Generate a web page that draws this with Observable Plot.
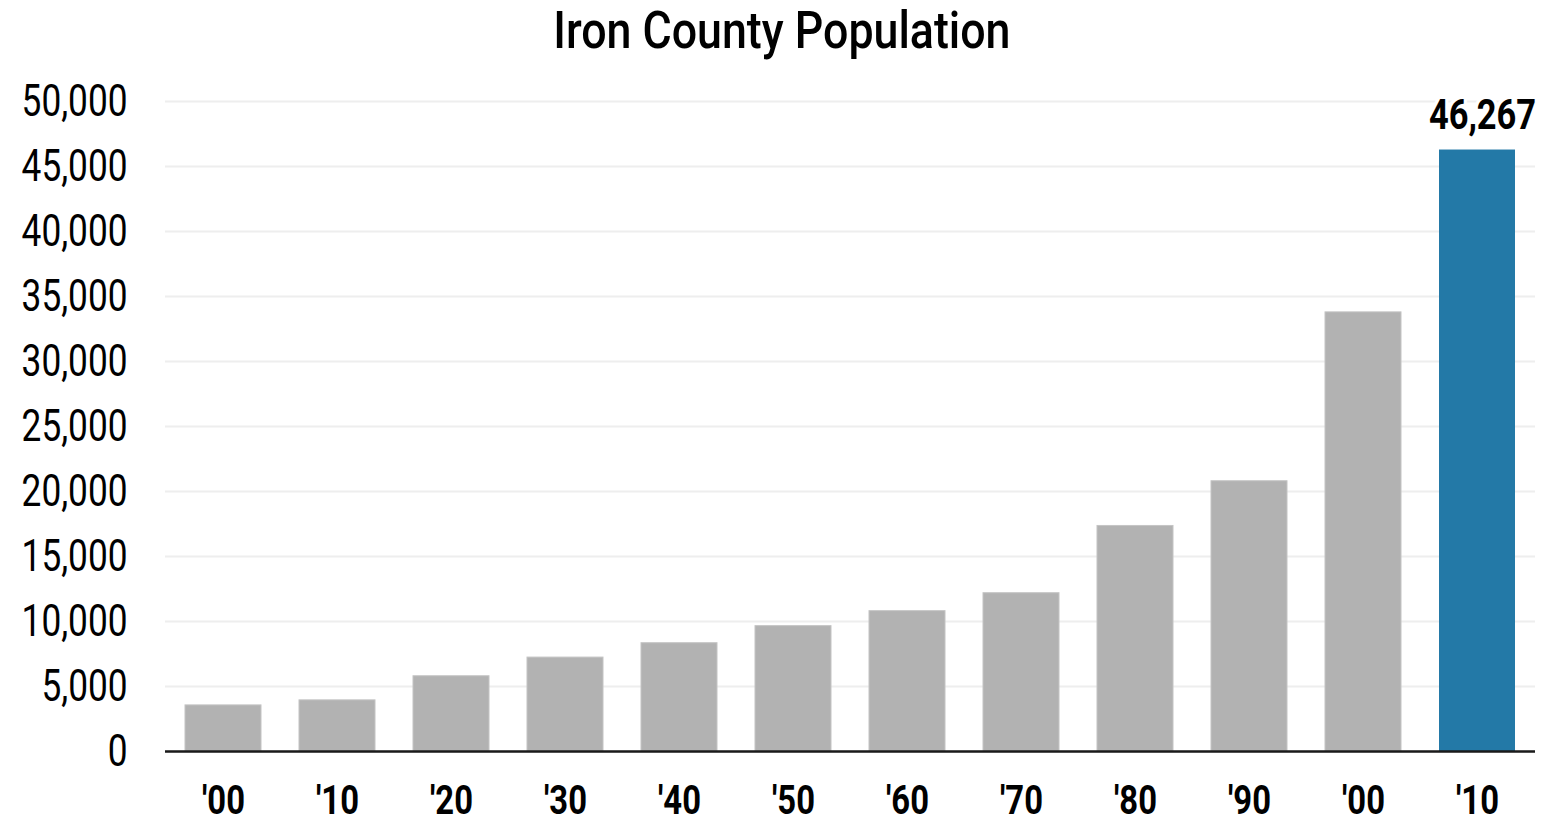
<!DOCTYPE html>
<html>
<head>
<meta charset="utf-8">
<script src="https://cdn.jsdelivr.net/npm/d3@7"></script>
<script src="https://cdn.jsdelivr.net/npm/@observablehq/plot@0.6"></script>
<style>
  html, body { margin: 0; padding: 0; background: #fff; }
  body { width: 1563px; font-family: Roboto, "Noto Sans", sans-serif; }
  #title { height: 65px; line-height: 62px; text-align: center; font-size: 52px; font-weight: 500; color: #000; }
  #title span { display: inline-block; transform: scaleX(0.86); transform-origin: center; }
  #chart svg { display: block; }
</style>
</head>
<body>
<div id="title"><span>Iron County Population</span></div>
<div id="chart"></div>
<script>
const years = [1900, 1910, 1920, 1930, 1940, 1950, 1960, 1970, 1980, 1990, 2000, 2010];
const population = [3546, 3933, 5787, 7224, 8331, 9642, 10795, 12177, 17349, 20789, 33779, 46267];
const tickLabels = ["'00", "'10", "'20", "'30", "'40", "'50", "'60", "'70", "'80", "'90", "'00", "'10"];
const yTicks = [0, 5000, 10000, 15000, 20000, 25000, 30000, 35000, 40000, 45000, 50000];
const highlightYear = 2010;

const data = years.map((year, i) => ({year, pop: population[i]}));
const fmt = d3.format(",");
const fontFamily = 'Roboto, "Noto Sans", sans-serif';

const chart = Plot.plot({
  width: 1563,
  height: 755,
  marginTop: 36,
  marginBottom: 69,
  marginLeft: 165,
  marginRight: 28,
  style: {fontFamily, fontSize: "44px", background: "#fff", color: "#000", overflow: "visible"},
  x: {type: "band", domain: years, paddingInner: 1/3, paddingOuter: 1/6, label: null},
  y: {domain: [0, 50000], label: null},
  marks: [
    Plot.gridY(yTicks, {stroke: "#eeeeee", strokeOpacity: 1, strokeWidth: 2}),
    Plot.barY(data.filter(d => d.year !== highlightYear), {x: "year", y: "pop", fill: "#b2b2b2", stroke: "#c4c4c4", strokeWidth: 1}),
    Plot.barY(data.filter(d => d.year === highlightYear), {x: "year", y: "pop", fill: "#2379a7"}),
    Plot.ruleY([0], {stroke: "#1a1a1a", strokeWidth: 2.5}),
    Plot.axisY(yTicks, {tickSize: 0, tickPadding: 38, tickFormat: fmt, fontSize: 44, label: null}),
    Plot.axisX(years, {tickSize: 0, tickPadding: 33, tickFormat: d => tickLabels[years.indexOf(d)], fontSize: 41, fontWeight: "bold", label: null}),
    Plot.text(data.filter(d => d.year === highlightYear), {
      x: "year", y: "pop", text: d => fmt(d.pop), dy: -21, dx: 5, lineAnchor: "bottom",
      fontWeight: "bold", fontSize: 43, fill: "#000", stroke: "#fff", strokeWidth: 8
    })
  ]
});
document.getElementById("chart").appendChild(chart);
// condense glyphs horizontally to mimic the condensed typeface of the original
chart.querySelectorAll("text").forEach(t => {
  const len = t.getComputedTextLength();
  if (len > 0) {
    t.setAttribute("textLength", (len * 0.8).toFixed(1));
    t.setAttribute("lengthAdjust", "spacingAndGlyphs");
  }
});
</script>
</body>
</html>
